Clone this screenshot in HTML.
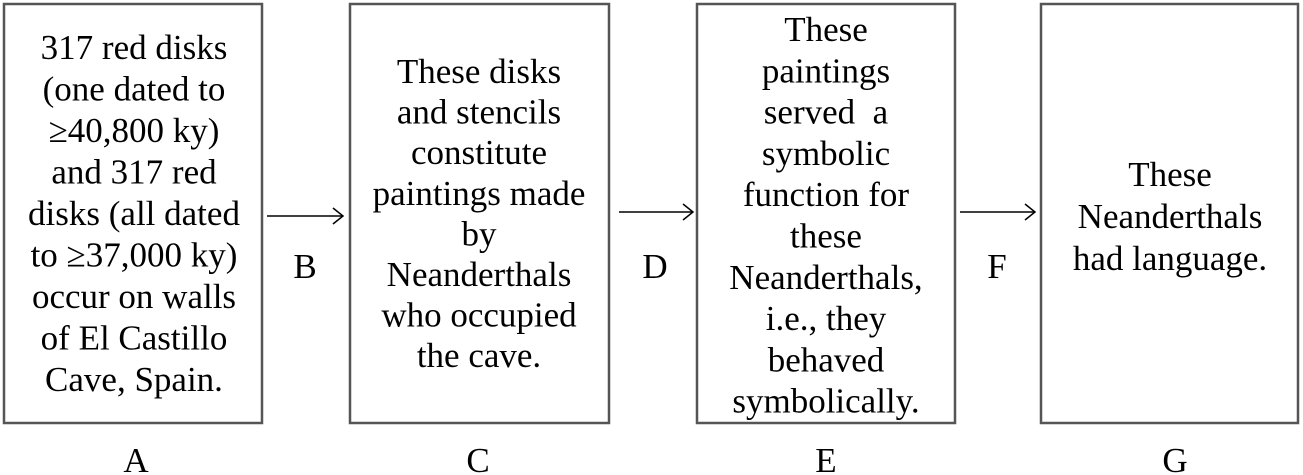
<!DOCTYPE html>
<html><head><meta charset="utf-8"><style>
html,body{margin:0;padding:0;background:#fff;}
svg{display:block;}
text{font-family:"Liberation Serif","Times New Roman",serif;font-size:35px;fill:#000;text-anchor:middle;}
</style></head><body>
<svg width="1303" height="475" viewBox="0 0 1303 475" xmlns="http://www.w3.org/2000/svg">
<g fill="none" stroke="#555" stroke-width="2.5">
<rect x="4" y="4" width="258" height="419"/>
<rect x="350" y="4" width="259" height="419"/>
<rect x="697" y="4" width="258" height="419"/>
<rect x="1041" y="4" width="257" height="419"/>
</g>
<g stroke="#000" stroke-width="1.5" fill="none">
<line x1="267" y1="216" x2="343" y2="216"/><polyline points="333,208 343,216 333,224"/>
<line x1="619" y1="212" x2="693" y2="212"/><polyline points="683,204 693,212 683,220"/>
<line x1="960" y1="212" x2="1035" y2="212"/><polyline points="1025,204 1035,212 1025,220"/>
</g>
<text x="134" y="59">317 red disks</text>
<text x="134" y="100.5">(one dated to</text>
<text x="134" y="142">≥40,800 ky)</text>
<text x="134" y="183.5">and 317 red</text>
<text x="134" y="225">disks (all dated</text>
<text x="134" y="266.5">to ≥37,000 ky)</text>
<text x="134" y="308">occur on walls</text>
<text x="134" y="349.5">of El Castillo</text>
<text x="134" y="391">Cave, Spain.</text>

<text x="479" y="83">These disks</text>
<text x="479" y="123.6">and stencils</text>
<text x="479" y="164.2">constitute</text>
<text x="479" y="204.8">paintings made</text>
<text x="479" y="245.4">by</text>
<text x="479" y="286">Neanderthals</text>
<text x="479" y="326.6">who occupied</text>
<text x="479" y="367.2">the cave.</text>

<text x="826" y="41">These</text>
<text x="826" y="82.3">paintings</text>
<text x="826" y="123.6">served&#160; a</text>
<text x="826" y="164.9">symbolic</text>
<text x="826" y="206.2">function for</text>
<text x="826" y="247.5">these</text>
<text x="826" y="288.8">Neanderthals,</text>
<text x="826" y="330.1">i.e., they</text>
<text x="826" y="371.4">behaved</text>
<text x="826" y="412.7">symbolically.</text>

<text x="1170" y="186">These</text>
<text x="1170" y="228">Neanderthals</text>
<text x="1170" y="270">had language.</text>

<text x="305" y="278">B</text>
<text x="655" y="278">D</text>
<text x="997" y="278">F</text>
<text x="136" y="472">A</text>
<text x="478" y="472">C</text>
<text x="826" y="472">E</text>
<text x="1175" y="472">G</text>
</svg>
</body></html>
